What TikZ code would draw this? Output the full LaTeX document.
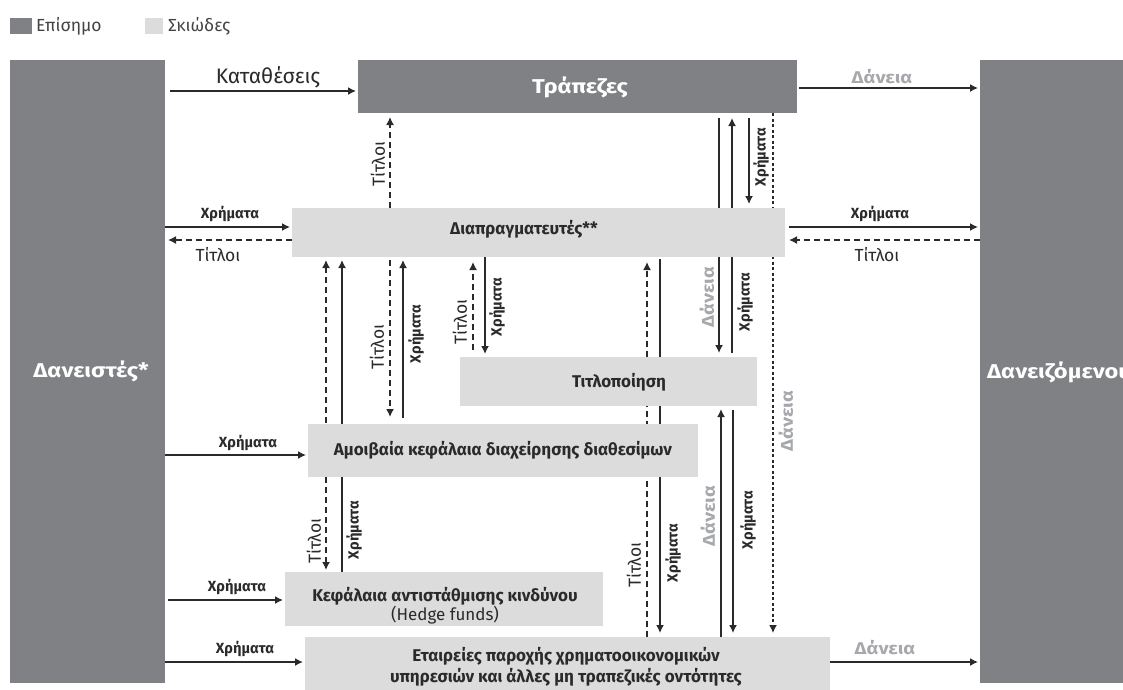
\documentclass[tikz,border=0pt]{standalone}
\usepackage{fontspec}
\setmainfont{Fira Sans}
\newfontfamily\widefont{Fira Sans}[FakeStretch=1.18]
\newfontfamily\gfont{Fira Sans}[FakeStretch=1.17]
\usetikzlibrary{arrows.meta,backgrounds}
\definecolor{dark}{HTML}{808184}
\definecolor{light}{HTML}{DCDCDC}
\definecolor{ink}{HTML}{2A2A2A}
\definecolor{legink}{HTML}{444444}
\definecolor{loan}{HTML}{A6A8AB}
\begin{document}
\begin{tikzpicture}[x=1pt,y=-1pt,
  >={Latex[length=8pt,width=8pt]},
  every node/.style={inner sep=0pt, outer sep=0pt},
  official/.style={fill=dark, draw=none},
  shadow/.style={fill=light, draw=none},
  whitetitle/.style={font=\widefont\fontsize{20}{23}\selectfont\bfseries, text=white},
  boxtitle/.style={font=\fontsize{17}{21}\selectfont\bfseries, text=ink},
  arr/.style={draw=ink, line width=1.5pt, ->},
  dsh/.style={arr, dash pattern=on 6pt off 4pt},
  dotl/.style={arr, dash pattern=on 3pt off 2.5pt},
  lbl/.style={font=\fontsize{17.5}{19}\selectfont, text=ink},
  leglbl/.style={font=\fontsize{17.5}{19}\selectfont, text=legink},
  biglbl/.style={font=\fontsize{21}{23}\selectfont, text=ink},
  blbl/.style={font=\fontsize{14.7}{16}\selectfont\bfseries, text=ink},
  glbl/.style={font=\gfont\fontsize{17}{19}\selectfont\bfseries, text=loan},
]
\useasboundingbox (0,0) rectangle (1123,689);

% legend
\node[official, minimum width=22, minimum height=16] (legoff) at (21,26) {};
\node[leglbl, anchor=west] (legofftxt) at (36,26) {Επίσημο};
\node[shadow, minimum width=18, minimum height=16] (legsh) at (154,26) {};
\node[leglbl, anchor=west] (legshtxt) at (168,26) {Σκιώδες};

% boxes
\node[official, minimum width=155, minimum height=623] (lenders) at (87.5,371.5) {};
\node[whitetitle] (lendtxt) at (91,371) {Δανειστές*};
\node[official, minimum width=150, minimum height=623] (borrowers) at (1055,371.5) {};
\node[whitetitle, anchor=west] (borrowtxt) at (987,372) {Δανειζόμενοι};
\node[official, minimum width=439, minimum height=53] (banks) at (577.5,86.5) {};
\node[whitetitle] (bankstxt) at (580,87) {Τράπεζες};
\node[shadow, minimum width=493, minimum height=49] (dealers) at (538.5,232.5) {};
\node[boxtitle] (dealerstxt) at (524,229) {Διαπραγματευτές**};
\node[shadow, minimum width=297, minimum height=49] (sec) at (608.5,381.5) {};
\node[boxtitle] (sectxt) at (619,382) {Τιτλοποίηση};
\node[shadow, minimum width=390, minimum height=53, boxtitle] (mutual) at (503,450.5) {Αμοιβαία κεφάλαια διαχείρησης διαθεσίμων};
\node[shadow, minimum width=318, minimum height=54] (hedge) at (444,599) {};
\node[boxtitle, align=center] (hedgetxt) at (445,606) {Κεφάλαια αντιστάθμισης κινδύνου\\[-2pt]{\mdseries (Hedge funds)}};
\node[shadow, minimum width=525, minimum height=63] (firms) at (567.5,668.5) {};
\node[boxtitle, align=center] (firmstxt) at (566,667) {Εταιρείες παροχής χρηματοοικονομικών\\υπηρεσιών και άλλες μη τραπεζικές οντότητες};

\begin{scope}[on background layer]
\fill[white] (0,0) rectangle (1123,689);
% horizontal connectors
\draw[arr, shorten <=5pt, shorten >=2pt] (lenders.east |- 0,91) -- (banks.west |- 0,91);
\draw[arr, shorten <=2pt, shorten >=2pt] (banks.east |- 0,88) -- (borrowers.west |- 0,88);
\draw[arr, shorten >=2pt] (lenders.east |- 0,227) -- (dealers.west |- 0,227);
\draw[dsh, shorten >=3pt] (dealers.west |- 0,240) -- (lenders.east |- 0,240);
\draw[arr, shorten <=4pt, shorten >=2pt] (dealers.east |- 0,227) -- (borrowers.west |- 0,227);
\draw[dsh, shorten >=4pt] (borrowers.west |- 0,240) -- (dealers.east |- 0,240);
\draw[arr, shorten >=2pt] (lenders.east |- 0,455) -- (mutual.west |- 0,455);
\draw[arr, shorten <=3pt, shorten >=2pt] (lenders.east |- 0,600) -- (hedge.west |- 0,600);
\draw[arr, shorten >=2pt] (lenders.east |- 0,662) -- (firms.west |- 0,662);
\draw[arr, shorten >=2pt] (firms.east |- 0,662) -- (borrowers.west |- 0,662);
% vertical connectors
\draw[dsh, shorten >=4pt] (390,0 |- dealers.north) -- (390,0 |- banks.south);
\draw[arr, shorten <=5pt, shorten >=4pt] (719,0 |- banks.south) -- (719,0 |- sec.north);
\draw[arr, shorten <=4pt, shorten >=5pt] (732,0 |- sec.north) -- (732,0 |- banks.south);
\draw[arr, shorten <=5pt, shorten >=4pt] (749,0 |- banks.south) -- (749,0 |- dealers.north);
\draw[dotl, shorten >=4pt] (773,0 |- banks.south) -- (773,0 |- firms.north);
\draw[dsh, <->, shorten <=2pt, shorten >=3pt] (326,0 |- hedge.north) -- (326,0 |- dealers.south);
\draw[arr, shorten >=3pt] (342,0 |- hedge.north) -- (342,0 |- dealers.south);
\draw[dsh, shorten <=3pt, shorten >=7pt] (390,0 |- dealers.south) -- (390,0 |- mutual.north);
\draw[arr, shorten <=6pt, shorten >=3pt] (403,0 |- mutual.north) -- (403,0 |- dealers.south);
\draw[dsh, shorten <=7pt, shorten >=5pt] (473,0 |- sec.north) -- (473,0 |- dealers.south);
\draw[arr, shorten >=3pt] (485,0 |- dealers.south) -- (485,0 |- sec.north);
\draw[dsh, shorten >=5pt] (647,0 |- firms.north) -- (647,0 |- dealers.south);
\draw[arr, shorten <=2pt, shorten >=4pt] (660,0 |- dealers.south) -- (660,0 |- firms.north);
\draw[arr, shorten >=3pt] (721,0 |- firms.north) -- (721,0 |- sec.south);
\draw[arr, shorten <=4pt, shorten >=4pt] (733,0 |- sec.south) -- (733,0 |- firms.north);
\end{scope}

% horizontal labels
\node[biglbl] (l1) at (268,77) {Καταθέσεις};
\node[glbl] (l2) at (882,77) {Δάνεια};
\node[blbl] (l3) at (230,214) {Χρήματα};
\node[lbl] (l4) at (218,255) {Τίτλοι};
\node[blbl] (l5) at (880,214) {Χρήματα};
\node[lbl] (l6) at (877,255) {Τίτλοι};
\node[blbl] (l7) at (248,443) {Χρήματα};
\node[blbl] (l8) at (237,587) {Χρήματα};
\node[blbl] (l9) at (245,649) {Χρήματα};
\node[glbl] (l10) at (885,648) {Δάνεια};
% vertical labels
\node[lbl, rotate=90] (v1) at (378,164) {Τίτλοι};
\node[glbl, rotate=90] (v2) at (707,297) {Δάνεια};
\node[blbl, rotate=90] (v3) at (745,302) {Χρήματα};
\node[blbl, rotate=90] (v4) at (761,157) {Χρήματα};
\node[glbl, rotate=90] (v5) at (786,421) {Δάνεια};
\node[lbl, rotate=90] (v6) at (314,541) {Τίτλοι};
\node[blbl, rotate=90] (v7) at (354,530) {Χρήματα};
\node[lbl, rotate=90] (v8) at (377,347) {Τίτλοι};
\node[blbl, rotate=90] (v9) at (416,334) {Χρήματα};
\node[lbl, rotate=90] (v10) at (460,322) {Τίτλοι};
\node[blbl, rotate=90] (v11) at (497,307) {Χρήματα};
\node[lbl, rotate=90] (v12) at (634,565) {Τίτλοι};
\node[blbl, rotate=90] (v13) at (673,553) {Χρήματα};
\node[glbl, rotate=90] (v14) at (708,516) {Δάνεια};
\node[blbl, rotate=90] (v15) at (748,520) {Χρήματα};
\end{tikzpicture}
\end{document}
